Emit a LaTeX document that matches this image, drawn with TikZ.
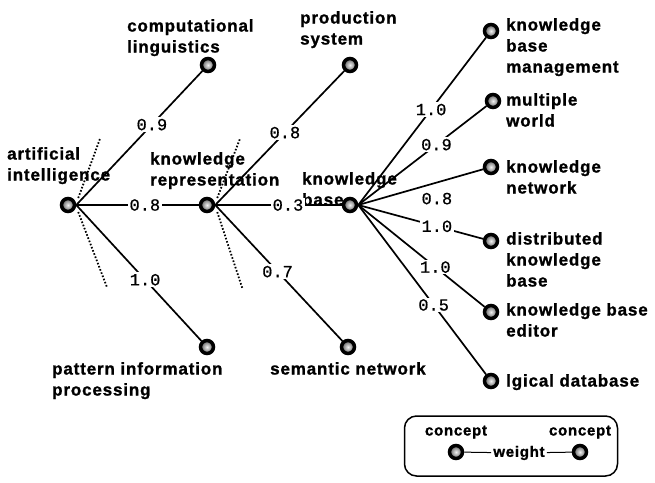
\documentclass[tikz,border=0pt]{standalone}
\usepackage{fontspec}
\usepackage{tikz}
\usetikzlibrary{calc}
\newfontfamily\lblfont[LetterSpace=5, FakeBold=1.2]{Liberation Sans}
\newfontfamily\wtfont[FakeBold=0.6]{Liberation Mono}

\begin{document}
\begin{tikzpicture}[x=1pt, y=-1pt,
    concept/.style={circle, minimum size=13pt, inner sep=0pt, draw=black, line width=3.5pt,
        shading=radial, inner color=gray!10, outer color=gray!70!black},
    txt/.style={anchor=north west, inner sep=0pt, align=left,
        font=\lblfont\bfseries\fontsize{17}{21}\selectfont},
    legtxt/.style={inner sep=0pt, font=\lblfont\bfseries\fontsize{15}{18}\selectfont},
    link/.style={line width=1.7pt},
    wt/.style={fill=white, inner sep=1.5pt, font=\wtfont\fontsize{17}{17}\selectfont},
    cut/.style={line width=1.8pt, dash pattern=on 1.6pt off 1.8pt}]
    \useasboundingbox (0,0) rectangle (655,482);

    % concepts
    \node[concept] (ai)  at (68,205)  {};
    \node[concept] (kr)  at (207,205) {};
    \node[concept] (kb)  at (350,205) {};
    \node[concept] (cl)  at (208,65)  {};
    \node[concept] (ps)  at (350,65)  {};
    \node[concept] (pip) at (207,347) {};
    \node[concept] (sn)  at (348,347) {};
    \node[concept] (kbm) at (491,31)  {};
    \node[concept] (mw)  at (493,101) {};
    \node[concept] (kn)  at (491,167) {};
    \node[concept] (dkb) at (491,241) {};
    \node[concept] (kbe) at (491,312) {};
    \node[concept] (ld)  at (491,381) {};

    % names
    \node[txt] (ai-t)  at (7,147)   {artificial\\intelligence};
    \node[txt] (kr-t)  at (150,152) {knowledge\\representation};
    \node[txt] (kb-t)  at (302,172) {knowledge\\base};
    \node[txt] (cl-t)  at (127,19)  {computational\\linguistics};
    \node[txt] (ps-t)  at (300,11)  {production\\system};
    \node[txt] (pip-t) at (52,362)  {pattern information\\processing};
    \node[txt] (sn-t)  at (270,362) {semantic network};
    \node[txt] (kbm-t) at (506,18)  {knowledge\\base\\management};
    \node[txt] (mw-t)  at (506,93)  {multiple\\world};
    \node[txt] (kn-t)  at (506,160) {knowledge\\network};
    \node[txt] (dkb-t) at (506,232) {distributed\\knowledge\\base};
    \node[txt] (kbe-t) at (506,303) {knowledge base\\editor};
    \node[txt] (ld-t)  at (506,374) {lgical database};

    % weighted links
    \draw[link] (ai.east) -- node[wt, pos=.6]  {0.9} (cl);
    \draw[link] (ai.east) -- node[wt, pos=.56] {0.8} (kr);
    \draw[link] (ai.east) -- node[wt, pos=.55] {1.0} (pip);
    \draw[link] (kr.east) -- node[wt, pos=.54] {0.8} (ps);
    \draw[link] (kr.east) -- node[wt, pos=.575] {0.3} (kb);
    \draw[link] (kr.east) -- node[wt, pos=.49] {0.7} (sn);
    \draw[link] (kb.east) -- node[wt, pos=.57] {1.0} (kbm);
    \draw[link] (kb.east) -- node[wt, pos=.61] {0.9} (mw);
    \draw[link] (kb.east) -- node[wt, fill=none, pos=.63, below=8pt] {0.8} (kn);
    \draw[link] (kb.east) -- node[wt, pos=.63] {1.0} (dkb);
    \draw[link] (kb.east) -- node[wt, pos=.61] {1.0} (kbe);
    \draw[link] (kb.east) -- node[wt, pos=.59] {0.5} (ld);

    % cut lines
    \draw[cut] ($(ai.east)+(2,-7)$) -- ++(22,-60);
    \draw[cut] ($(ai.east)+(2,7)$) -- ++(29,76);
    \draw[cut] ($(kr.east)+(2,-7)$) -- ++(23,-60);
    \draw[cut] ($(kr.east)+(2,7)$) -- ++(25,76);

    % legend
    \node[draw, line width=1.5pt, rounded corners=12pt, minimum width=213pt, minimum height=60pt] (legend) at (511,446) {};
    \node[concept] (lc1) at (456,452) {};
    \node[concept] (lc2) at (580,452) {};
    \node[legtxt, above=5pt] (lc1-t) at (lc1.north) {concept};
    \node[legtxt, above=5pt] (lc2-t) at (lc2.north) {concept};
    \node[legtxt, fill=white, inner xsep=2pt] (lw) at (519,453) {weight};
    \draw[line width=1pt] (lc1) -- (lw) -- (lc2);
\end{tikzpicture}
\end{document}
